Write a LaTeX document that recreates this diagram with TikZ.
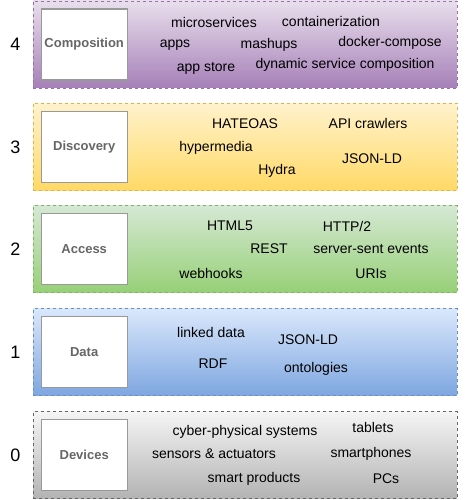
\documentclass[tikz,border=0pt]{standalone}
\usepackage{fontspec}
\setmainfont{Liberation Sans}
\usetikzlibrary{positioning}

\definecolor{purpleline}{HTML}{9673A6}
\definecolor{purpletop}{HTML}{E8DEEC}
\definecolor{purplebot}{HTML}{A680B8}
\definecolor{yellowline}{HTML}{D6B656}
\definecolor{yellowtop}{HTML}{FFF2CC}
\definecolor{yellowbot}{HTML}{FFD966}
\definecolor{greenline}{HTML}{82B366}
\definecolor{greentop}{HTML}{D5E8D4}
\definecolor{greenbot}{HTML}{97D077}
\definecolor{blueline}{HTML}{6C8EBF}
\definecolor{bluetop}{HTML}{DAE8FC}
\definecolor{bluebot}{HTML}{7EA6E0}
\definecolor{grayline}{HTML}{666666}
\definecolor{graytop}{HTML}{F5F5F5}
\definecolor{graybot}{HTML}{B3B3B3}

\begin{document}
\begin{tikzpicture}[
  x=1pt, y=-1pt,
  layer/.style={rectangle, dashed, line width=0.9pt, minimum width=424pt,
    minimum height=87pt, inner sep=0pt},
  layername/.style={rectangle, draw=black!40, line width=1.3pt, fill=white,
    minimum width=86pt, minimum height=71pt, inner sep=0pt,
    font=\fontsize{13}{15}\selectfont\bfseries, text=black!60},
  level/.style={inner sep=0pt, font=\fontsize{18}{20}\selectfont},
  item/.style={inner sep=0pt, font=\fontsize{14}{16}\selectfont},
]
  \useasboundingbox (0,0) rectangle (469,500);

  % layers, top to bottom
  \node[layer, draw=purpleline, top color=purpletop, bottom color=purplebot] (composition) at (245,44.5) {};
  \node[layer, draw=yellowline, top color=yellowtop, bottom color=yellowbot] (discovery) at (245,147) {};
  \node[layer, draw=greenline, top color=greentop, bottom color=greenbot] (access) at (245,249) {};
  \node[layer, draw=blueline, top color=bluetop, bottom color=bluebot] (data) at (245,352) {};
  \node[layer, draw=grayline, top color=graytop, bottom color=graybot] (devices) at (245,455) {};

  % names and levels
  \foreach \lay/\name/\num in {composition/Composition/4, discovery/Discovery/3,
      access/Access/2, data/Data/1, devices/Devices/0} {
    \node[layername, right=8pt of \lay.west] (\lay-name) {\name};
    \node[level, left=12pt of \lay.west] (\lay-num) {\num};
  }

  % composition
  \node[item] (microservices) at (214,22) {microservices};
  \node[item] (containerization) at (331,21) {containerization};
  \node[item] (apps) at (175,45) {apps};
  \node[item] (mashups) at (269,45) {mashups};
  \node[item] (dockercompose) at (390,43) {docker-compose};
  \node[item] (appstore) at (206,68) {app store};
  \node[item] (dynamic) at (345,64.5) {dynamic service composition};

  % discovery
  \node[item] (hateoas) at (245,123.5) {HATEOAS};
  \node[item] (crawlers) at (368,123.5) {API crawlers};
  \node[item] (hypermedia) at (216,147.5) {hypermedia};
  \node[item] (jsonld-d) at (372,159) {JSON-LD};
  \node[item] (hydra) at (277,171) {Hydra};

  % access
  \node[item] (html5) at (230,226) {HTML5};
  \node[item] (http2) at (347,226) {HTTP/2};
  \node[item] (rest) at (269,249) {REST};
  \node[item] (sse) at (371,249) {server-sent events};
  \node[item] (webhooks) at (211,273.5) {webhooks};
  \node[item] (uris) at (371,273.5) {URIs};

  % data
  \node[item] (linked) at (211,332.5) {linked data};
  \node[item] (jsonld-a) at (308,340) {JSON-LD};
  \node[item] (rdf) at (213,364) {RDF};
  \node[item] (ontologies) at (316,368.5) {ontologies};

  % devices
  \node[item] (cps) at (245,432) {cyber-physical systems};
  \node[item] (tablets) at (373,427) {tablets};
  \node[item] (sensors) at (214,454) {sensors \& actuators};
  \node[item] (smartphones) at (371,454) {smartphones};
  \node[item] (products) at (254,478.5) {smart products};
  \node[item] (pcs) at (386,478.5) {PCs};
\end{tikzpicture}
\end{document}
